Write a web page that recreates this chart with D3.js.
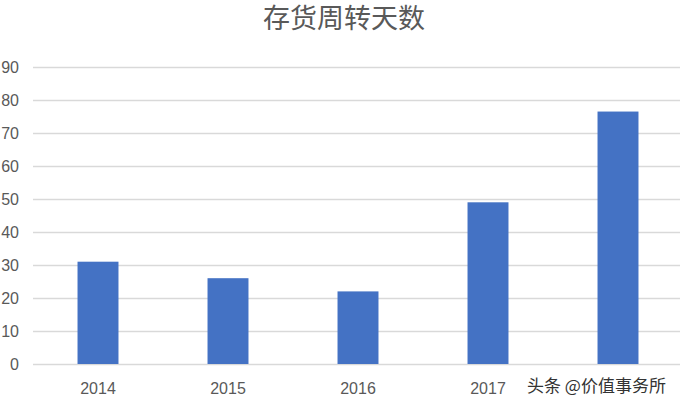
<!DOCTYPE html>
<html>
<head>
<meta charset="utf-8">
<script src="https://cdn.jsdelivr.net/npm/d3@7/dist/d3.min.js"></script>
<style>
  body { margin: 0; background: #fff; }
  svg { display: block; }
</style>
</head>
<body>
<div id="chart"></div>
<script>
var w = 680;
var h = 406;

// data
var years = ["2014", "2015", "2016", "2017", "2018"];
var days = [31, 26, 22, 49, 76.5];
var yTicks = [0, 10, 20, 30, 40, 50, 60, 70, 80, 90];
var title = "存货周转天数";
var watermark = "头条 @价值事务所";

// plot box (window.top is taken, so no "top" here)
var plotLeft = 33, plotRight = 683, plotTop = 67, plotBottom = 364;

var svg = d3.select("#chart")
            .append("svg")
            .attr("width", w)
            .attr("height", h);

var x = d3.scaleBand()
          .domain(years)
          .range([plotLeft, plotRight])
          .paddingInner(0.685)
          .paddingOuter(0.3425);

var y = d3.scaleLinear()
          .domain([0, 90])
          .range([plotBottom, plotTop]);

// title
svg.append("text")
   .attr("x", 344)
   .attr("y", 28)
   .attr("text-anchor", "middle")
   .attr("font-family", "'Noto Sans CJK SC', sans-serif")
   .attr("font-size", "27px")
   .attr("fill", "#595959")
   .text(title);

// gridlines
svg.selectAll("line.grid")
   .data(yTicks)
   .enter()
   .append("line")
   .attr("class", "grid")
   .attr("x1", plotLeft)
   .attr("x2", w)
   .attr("y1", function(d) { return Math.round(y(d)) + 0.5; })
   .attr("y2", function(d) { return Math.round(y(d)) + 0.5; })
   .attr("stroke", "#d9d9d9")
   .attr("stroke-width", 1.3);

// y labels
svg.selectAll("text.ylab")
   .data(yTicks)
   .enter()
   .append("text")
   .attr("class", "ylab")
   .attr("x", 19)
   .attr("y", function(d) { return y(d); })
   .attr("dy", "0.35em")
   .attr("text-anchor", "end")
   .attr("font-family", "'Liberation Sans', Arial, sans-serif")
   .attr("font-size", "16px")
   .attr("fill", "#595959")
   .text(function(d) { return d; });

// bars
svg.selectAll("rect.bar")
   .data(days)
   .enter()
   .append("rect")
   .attr("class", "bar")
   .attr("x", function(d, i) { return x(years[i]); })
   .attr("y", function(d) { return y(d); })
   .attr("width", x.bandwidth())
   .attr("height", function(d) { return plotBottom - y(d); })
   .attr("fill", "#4472c4");

// x labels
svg.selectAll("text.xlab")
   .data(years)
   .enter()
   .append("text")
   .attr("class", "xlab")
   .attr("x", function(d) { return x(d) + x.bandwidth() / 2; })
   .attr("y", 394)
   .attr("text-anchor", "middle")
   .attr("font-family", "'Liberation Sans', Arial, sans-serif")
   .attr("font-size", "16px")
   .attr("fill", "#595959")
   .text(function(d) { return d; });

// watermark sits over the last label
svg.append("rect")
   .attr("x", 522)
   .attr("y", 374)
   .attr("width", 150)
   .attr("height", 25)
   .attr("fill", "#fff");

svg.append("text")
   .attr("x", 527)
   .attr("y", 392)
   .attr("font-family", "'Noto Sans CJK SC', sans-serif")
   .attr("font-size", "17px")
   .attr("fill", "#333")
   .text(watermark);
</script>
</body>
</html>
